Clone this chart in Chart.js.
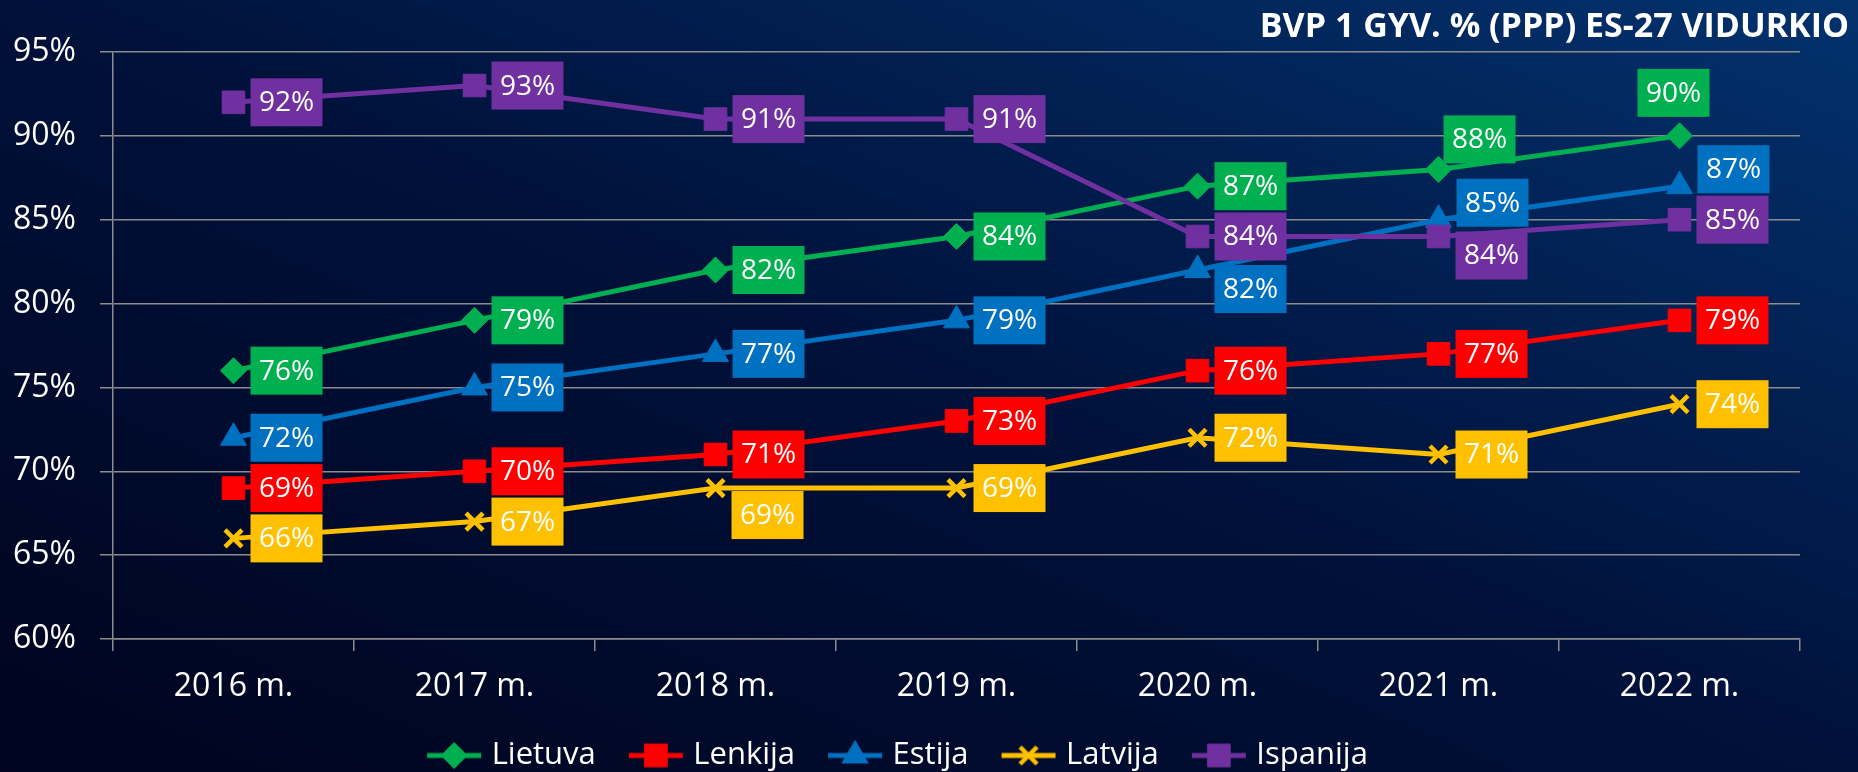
<!DOCTYPE html>
<html lang="lt">
<head>
<meta charset="UTF-8">
<title>BVP 1 gyv. % (PPP) ES-27 vidurkio</title>
<script src="https://cdn.jsdelivr.net/npm/chart.js"></script>
<style>
    html, body { margin: 0; padding: 0; }
    body {
        width: 1858px;
        height: 772px;
        overflow: hidden;
        background: linear-gradient(to top right, #00041e 0%, #00113a 50%, #03326e 100%);
    }
    .chart-wrapper { position: relative; width: 1858px; height: 772px; }
</style>
</head>
<body>
<div class="chart-wrapper">
    <canvas id="gdpChart"></canvas>
</div>

<script>
    const titleText = 'BVP 1 GYV. % (PPP) ES-27 VIDURKIO';
    const years = ['2016 m.', '2017 m.', '2018 m.', '2019 m.', '2020 m.', '2021 m.', '2022 m.'];
    const lietuva  = [76, 79, 82, 84, 87, 88, 90];
    const lenkija  = [69, 70, 71, 73, 76, 77, 79];
    const estija   = [72, 75, 77, 79, 82, 85, 87];
    const latvija  = [66, 67, 69, 69, 72, 71, 74];
    const ispanija = [92, 93, 91, 91, 84, 84, 85];
    const yMin = 60, yMax = 95, yStep = 5;

    // where each value box sits next to its point
    const labelPlace = [
        ['r', 'r', 'r', 'r', 'r', 'ur', 'u'],
        ['r', 'r', 'r', 'r', 'r', 'r', 'r'],
        ['r', 'r', 'r', 'r', 'rd', 'ru', 'ru'],
        ['r', 'r', 'rdd', 'r', 'r', 'r', 'r'],
        ['r', 'r', 'r', 'r', 'r', 'rd', 'r']
    ];
    const placeOffset = { r: [53, 0], ru: [54, -17], rd: [53, 19], rdd: [52, 27], ur: [41, -30], u: [-6, -43] };

    const FONT = '"Open Sans", "Noto Sans", sans-serif';
    const GRID = 'rgba(140, 140, 140, 1)';

    const series = [
        { label: 'Lietuva',  data: lietuva,  color: '#00B050', style: 'rectRot',  radius: 13, bw: 1 },
        { label: 'Lenkija',  data: lenkija,  color: '#FF0000', style: 'rect',     radius: 16, bw: 1 },
        { label: 'Estija',   data: estija,   color: '#0070C0', style: 'triangle', radius: 15, bw: 1 },
        { label: 'Latvija',  data: latvija,  color: '#FFC000', style: 'crossRot', radius: 12, bw: 4.5 },
        { label: 'Ispanija', data: ispanija, color: '#7030A0', style: 'rect',     radius: 16, bw: 1 }
    ];

    function legendIcon(s) {
        const c = document.createElement('canvas');
        c.width = 56; c.height = 34;
        const g = c.getContext('2d');
        g.strokeStyle = s.color;
        g.fillStyle = s.color;
        g.lineWidth = 5;
        g.beginPath(); g.moveTo(1, 17); g.lineTo(55, 17); g.stroke();
        g.lineWidth = s.bw;
        Chart.helpers.drawPoint(g, { pointStyle: s.style, radius: s.radius, rotation: 0, borderWidth: s.bw }, 28, 17);
        return c;
    }
    const icons = series.map(legendIcon);

    const boxLabels = {
        id: 'boxLabels',
        afterDatasetsDraw(chart) {
            const ctx = chart.ctx;
            ctx.save();
            ctx.font = '28px ' + FONT;
            ctx.textAlign = 'center';
            ctx.textBaseline = 'middle';
            chart.data.datasets.forEach((ds, i) => {
                chart.getDatasetMeta(i).data.forEach((pt, j) => {
                    const off = placeOffset[labelPlace[i][j]];
                    const cx = pt.x + off[0], cy = pt.y + off[1];
                    ctx.fillStyle = ds.borderColor;
                    ctx.fillRect(cx - 36, cy - 24, 72, 48);
                    ctx.fillStyle = '#ffffff';
                    ctx.fillText(ds.data[j] + '%', cx, cy + 1);
                });
            });
            ctx.restore();
        }
    };

    const cornerTitle = {
        id: 'cornerTitle',
        afterDraw(chart) {
            const ctx = chart.ctx;
            ctx.save();
            let size = 34;
            ctx.font = 'bold ' + size + 'px ' + FONT;
            const w = ctx.measureText(titleText).width;
            if (w > 634) {
                size = size * 634 / w;
                ctx.font = 'bold ' + size + 'px ' + FONT;
            }
            ctx.fillStyle = '#ffffff';
            ctx.textAlign = 'right';
            ctx.textBaseline = 'middle';
            ctx.fillText(titleText, 1849, 27);
            ctx.restore();
        }
    };

    new Chart(document.getElementById('gdpChart'), {
        type: 'line',
        data: {
            labels: years,
            datasets: series.map((s, i) => ({
                label: s.label,
                data: s.data,
                borderColor: s.color,
                backgroundColor: s.color,
                borderWidth: 5,
                pointStyle: s.style,
                pointRadius: s.radius,
                pointHoverRadius: s.radius,
                pointBackgroundColor: s.color,
                pointBorderColor: s.color,
                pointBorderWidth: s.bw,
                tension: 0,
                order: series.length - i   // later series on top, like the original
            }))
        },
        options: {
            responsive: true,
            maintainAspectRatio: false,
            animation: false,
            layout: { padding: { top: 52, right: 58, left: 0, bottom: 0 } },
            scales: {
                x: {
                    offset: true,
                    grid: { offset: true, drawOnChartArea: false, drawTicks: true, tickLength: 12, color: GRID, lineWidth: 1.5 },
                    border: { display: true, color: GRID, width: 1.5 },
                    ticks: { color: '#ffffff', font: { family: FONT, size: 32 }, padding: 17, maxRotation: 0 },
                    afterFit: (s) => { s.height = 63; }
                },
                y: {
                    min: yMin,
                    max: yMax,
                    grid: { color: GRID, lineWidth: 1.5, tickLength: 13 },
                    border: { display: true, color: GRID, width: 1.5 },
                    ticks: {
                        stepSize: yStep,
                        color: '#ffffff',
                        font: { family: FONT, size: 32 },
                        padding: 24,
                        callback: (v) => v + '%'
                    },
                    afterFit: (s) => { s.width = 113; }
                }
            },
            plugins: {
                legend: {
                    position: 'bottom',
                    maxHeight: 70,
                    labels: {
                        usePointStyle: true,
                        pointStyleWidth: 44,
                        padding: 38,
                        color: '#ffffff',
                        font: { family: FONT, size: 31 },
                        generateLabels: (chart) => chart.data.datasets.map((ds, i) => ({
                            text: ds.label,
                            pointStyle: icons[i],
                            fillStyle: ds.borderColor,
                            strokeStyle: ds.borderColor,
                            lineWidth: 0,
                            fontColor: '#ffffff',
                            hidden: false,
                            datasetIndex: i
                        }))
                    }
                },
                tooltip: { enabled: false }
            }
        },
        plugins: [boxLabels, cornerTitle]
    });
</script>
</body>
</html>
